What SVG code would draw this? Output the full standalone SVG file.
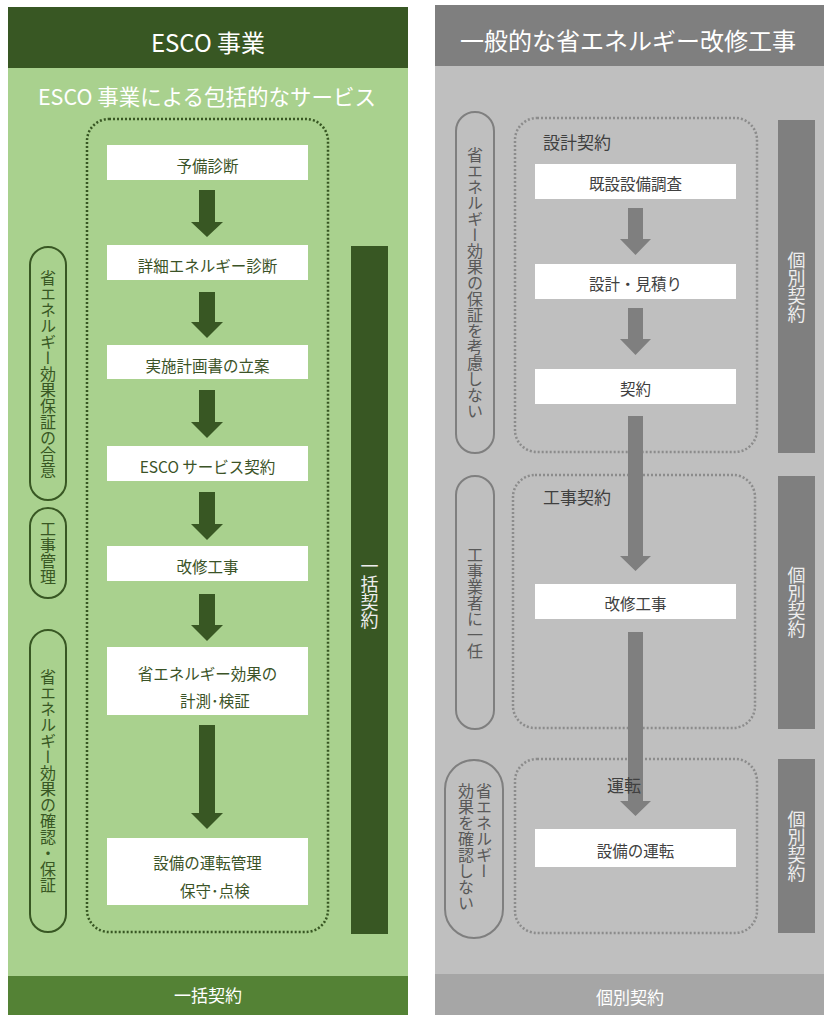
<svg xmlns="http://www.w3.org/2000/svg" width="824" height="1015" viewBox="0 0 824 1015">
<defs>
<style>
text{font-family:"Noto Sans CJK JP","Noto Sans",sans-serif}
.hdr{fill:#ffffff;font-size:24px;text-anchor:middle}
.box{fill:#ffffff}
.lt{fill:#3B5327;font-size:15.5px;text-anchor:middle}
.rt{fill:#404040;font-size:15.5px;text-anchor:middle}
.lpill{fill:none;stroke:#385723;stroke-width:2}
.rpill{fill:none;stroke:#7F7F7F;stroke-width:2}
.vt{writing-mode:vertical-rl;text-anchor:middle;font-size:16px}
.ldot{fill:none;stroke:#385723;stroke-width:2.5;stroke-dasharray:2 2}
.rdot{fill:none;stroke:#8C8C8C;stroke-width:2.5;stroke-dasharray:2 2}
.larr{fill:#385723}
.rarr{fill:#7F7F7F}
.bar{writing-mode:vertical-rl;text-anchor:middle;font-size:18px;fill:#EDEDED}
.sec{fill:#404040;font-size:17px}
</style>
</defs>
<g id="left-panel">
<rect x="8" y="7" width="400" height="61" fill="#385723"/>
<rect x="8" y="68" width="400" height="908" fill="#A9D18E"/>
<rect x="8" y="976" width="400" height="39" fill="#548235"/>
<text class="hdr" x="208" y="52">ESCO 事業</text>
<text x="207" y="105" fill="#ffffff" font-size="21.5" text-anchor="middle">ESCO 事業による包括的なサービス</text>
<text x="208" y="1002" fill="#ffffff" font-size="17" text-anchor="middle">一括契約</text>
</g>
<g id="right-panel">
<rect x="435" y="5" width="389" height="61" fill="#7F7F7F"/>
<rect x="435" y="66" width="389" height="908" fill="#BFBFBF"/>
<rect x="435" y="974" width="389" height="41" fill="#A6A6A6"/>
<text class="hdr" x="628" y="50" font-size="24">一般的な省エネルギー改修工事</text>
<text x="630" y="1004" fill="#ffffff" font-size="17" text-anchor="middle">個別契約</text>
</g>
<g id="esco-scope">
<rect class="ldot" x="87" y="119" width="241" height="813" rx="22"/>
</g>
<g id="left-side-labels">
<g id="l-pill-1"><rect class="lpill" x="30" y="247" width="36" height="253" rx="18"/><text class="vt" x="48" y="373.5" fill="#385723">省エネルギー効果保証の合意</text></g>
<g id="l-pill-2"><rect class="lpill" x="30" y="508" width="36" height="90" rx="18"/><text class="vt" x="48" y="553" fill="#385723">工事管理</text></g>
<g id="l-pill-3"><rect class="lpill" x="30" y="630" width="36" height="302" rx="18"/><text class="vt" x="48" y="781" fill="#385723">省エネルギー効果の確認・保証</text></g>
</g>
<g id="l-bar"><rect x="351" y="246" width="37" height="688" fill="#385723"/><text class="bar" x="369.5" y="593">一括契約</text></g>
<g id="connectors">
<path class="larr" d="M199 190H215V222H223L207 237L191 222H199Z"/>
<path class="larr" d="M199 292H215V322H223L207 338L191 322H199Z"/>
<path class="larr" d="M199 390H215V422H223L207 438L191 422H199Z"/>
<path class="larr" d="M199 492H215V524H223L207 540L191 524H199Z"/>
<path class="larr" d="M199 594H215V625H223L207 641L191 625H199Z"/>
<path class="larr" d="M199 725H215V813H223L207 829L191 813H199Z"/>
<path class="rarr" d="M628 208H643V239H651L635.5 255L620 239H628Z"/>
<path class="rarr" d="M628 308H643V339H651L635.5 355L620 339H628Z"/>
</g>
<g id="left-steps">
<g id="s1"><rect class="box" x="107" y="145" width="201" height="35"/><text class="lt" x="207.5" y="172">予備診断</text></g>
<g id="s2"><rect class="box" x="107" y="245" width="201" height="35"/><text class="lt" x="207.5" y="272">詳細エネルギー診断</text></g>
<g id="s3"><rect class="box" x="107" y="345" width="201" height="34"/><text class="lt" x="207.5" y="372">実施計画書の立案</text></g>
<g id="s4"><rect class="box" x="107" y="446" width="201" height="35"/><text class="lt" x="207.5" y="473">ESCO サービス契約</text></g>
<g id="s5"><rect class="box" x="107" y="546" width="201" height="35"/><text class="lt" x="207.5" y="573">改修工事</text></g>
<g id="s6"><rect class="box" x="107" y="647" width="201" height="68"/><text class="lt" x="207.5" y="680">省エネルギー効果の</text><text class="lt" x="215" y="707">計測･検証</text></g>
<g id="s7"><rect class="box" x="107" y="838" width="201" height="67"/><text class="lt" x="207.5" y="869">設備の運転管理</text><text class="lt" x="215" y="897">保守･点検</text></g>
</g>
<g id="right-groups">
<g id="g-design"><rect class="rdot" x="515" y="118" width="242" height="334" rx="22"/><text class="sec" x="543" y="149">設計契約</text></g>
<g id="g-work"><rect class="rdot" x="513" y="475" width="242" height="253" rx="22"/><text class="sec" x="543" y="504">工事契約</text></g>
<g id="g-op"><rect class="rdot" x="515" y="759" width="242" height="174" rx="22"/></g>
</g>
<g id="right-side-labels">
<g id="r-pill-1"><rect class="rpill" x="456" y="112" width="38" height="341" rx="19"/><text class="vt" x="475" y="282.5" fill="#595959">省エネルギー効果の保証を考慮しない</text></g>
<g id="r-pill-2"><rect class="rpill" x="456" y="476" width="38" height="253" rx="19"/><text class="vt" x="475" y="602.5" fill="#595959">工事業者に一任</text></g>
<g id="r-pill-3"><rect class="rpill" x="445" y="760" width="58" height="178" rx="29"/><text class="vt" x="484" y="783" fill="#595959" style="text-anchor:start">省エネルギー</text><text class="vt" x="466" y="783" fill="#595959" style="text-anchor:start">効果を確認しない</text></g>
</g>
<g id="right-bars">
<g id="r-bar-1"><rect x="778" y="120" width="37" height="333" fill="#7F7F7F"/><text class="bar" x="796.5" y="287">個別契約</text></g>
<g id="r-bar-2"><rect x="778" y="476" width="37" height="253" fill="#7F7F7F"/><text class="bar" x="796.5" y="602.5">個別契約</text></g>
<g id="r-bar-3"><rect x="778" y="759" width="37" height="174" fill="#7F7F7F"/><text class="bar" x="796.5" y="846">個別契約</text></g>
</g>
<g id="connectors-long">
<path class="rarr" d="M628 416H643V556H651L635.5 571L620 556H628Z"/>
<path class="rarr" d="M628 632H643V801H651L635.5 816L620 801H628Z"/>
</g>
<g id="right-steps">
<g id="r1"><rect class="box" x="535" y="164" width="201" height="35"/><text class="rt" x="635.5" y="190">既設設備調査</text></g>
<g id="r2"><rect class="box" x="535" y="264" width="201" height="35"/><text class="rt" x="635.5" y="290">設計・見積り</text></g>
<g id="r3"><rect class="box" x="535" y="369" width="201" height="35"/><text class="rt" x="635.5" y="395">契約</text></g>
<g id="r4"><rect class="box" x="535" y="584" width="201" height="35"/><text class="rt" x="635.5" y="610">改修工事</text></g>
<g id="r5"><rect class="box" x="535" y="829" width="201" height="38"/><text class="rt" x="635.5" y="857">設備の運転</text></g>
<text class="sec" x="607" y="792">運転</text>
</g>
</svg>
